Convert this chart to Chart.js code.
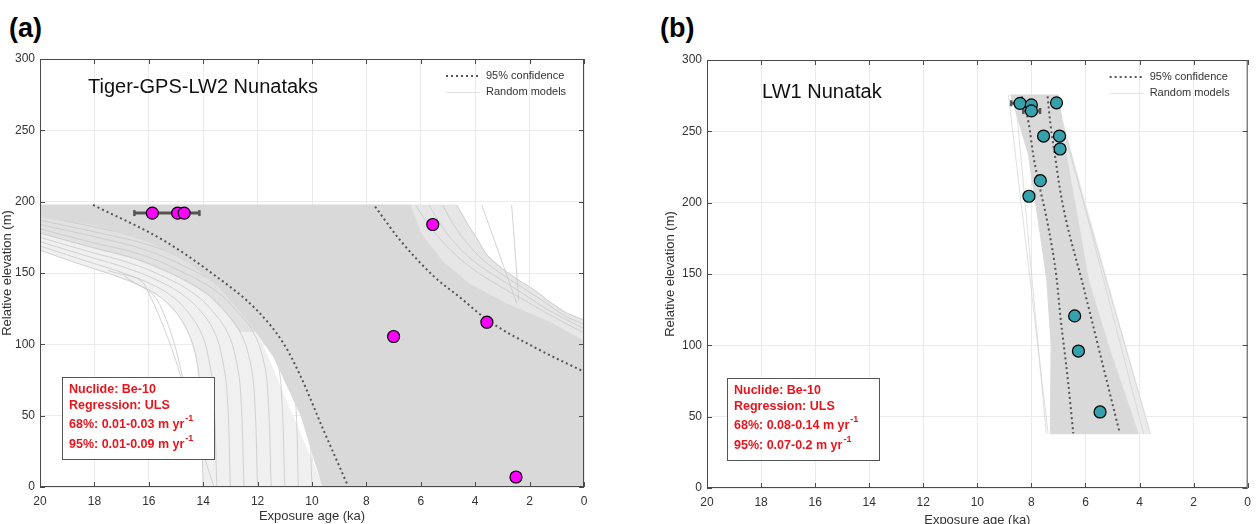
<!DOCTYPE html>
<html lang="en">
<head>
<meta charset="UTF-8" />
<title>Exposure age vs relative elevation</title>
<script src="https://cdn.jsdelivr.net/npm/chart.js@4.4.1/dist/chart.umd.min.js"></script>
<style>
  html, body { margin: 0; padding: 0; background: #fff; overflow: hidden; width: 1258px; height: 524px; }
  .panel-label { position: absolute; top: 13px; line-height: 30px; font: bold 27px "Liberation Sans", Arial, sans-serif; color: #000; }
  canvas { position: absolute; top: 0; }
</style>
</head>
<body>
<div class="panel-label" style="left:9px">(a)</div>
<div class="panel-label" style="left:660px">(b)</div>
<canvas id="chartA" width="600" height="524" style="left:0"></canvas>
<canvas id="chartB" width="595" height="528" style="left:663px"></canvas>
<script>
// ---------- panel (a): Tiger-GPS-LW2 Nunataks ----------
const ageA = [15.87, 14.94, 14.7, 5.56, 3.57, 7.0, 2.5];
const elevA = [192, 192, 192, 184, 115.5, 105.5, 7];
// horizontal error bar (elevation, older end, younger end)
const errA = [[192, 16.53, 14.14]];
// 95% confidence curves
const ciOldA = [[18.05, 197.7], [15.47, 173], [13.69, 150], [12.03, 124], [11.05, 100.7], [10.44, 78.5], [9.58, 40], [8.66, 0]];
const ciYoungA = [[7.68, 196.5], [6.76, 173], [5.54, 148], [4.5, 132], [3.58, 117.5], [1.86, 98.3], [0, 80.8]];
// dense core of the random models (outline)
const bandA = [[20, 197.7], [6.4, 197.7], [6.0, 178], [5.2, 158], [4.2, 142], [2.8, 128], [1.2, 115], [0, 102], [0, 0],
  [9.6, 0], [10.4, 50], [11.4, 91], [12.4, 118], [13.4, 140], [14.5, 157], [16, 172], [18, 184], [20, 189]];
// lighter spread of the models, older side
const spreadOuterA = [[20, 197.7], [20, 166], [18.5, 156], [17.3, 148.5], [16.3, 141], [15.5, 132], [14.9, 120], [14.5, 106],
  [14.25, 90], [14.1, 65], [14.0, 0], [9.6, 0], [14, 197.7]];
const spreadUpperA = [[20, 197.7], [20, 178], [18.1, 168], [16.5, 160], [15.1, 149], [13.9, 136], [13.2, 123], [12.65, 109],
  [11.5, 109], [10, 197.7]];
// lighter spread, younger side
const spreadYoungA = [[6.4, 197.7], [4.68, 197.7], [4.3, 185], [3.9, 173], [3.58, 163], [3.0, 153], [2.4, 145], [1.86, 138.5],
  [1.2, 129], [0.64, 122], [0, 117], [0, 102], [1.2, 115], [2.8, 128], [4.2, 142], [5.2, 158], [6.0, 178]];
// individual random models, older side
const modelsOldA = [
  [[20, 166], [18.5, 156], [17.3, 148.5], [16.3, 141], [15.5, 132], [14.9, 120], [14.5, 106], [14.25, 90], [14.1, 65], [14.0, 0]],
  [[20, 169], [18.4, 159], [17.1, 151], [16.0, 143], [15.1, 133], [14.5, 121], [14.05, 107], [13.8, 90], [13.62, 65], [13.5, 0]],
  [[20, 172], [18.3, 162], [16.9, 154], [15.7, 145], [14.7, 134], [14.0, 121], [13.55, 107], [13.3, 90], [13.12, 65], [13.0, 0]],
  [[20, 175], [18.2, 165], [16.7, 157], [15.4, 147], [14.3, 135], [13.6, 122], [13.1, 108], [12.8, 90], [12.62, 65], [12.5, 0]],
  [[20, 178], [18.1, 168], [16.5, 160], [15.1, 149], [13.9, 136], [13.2, 123], [12.65, 109], [12.3, 90], [12.12, 65], [12.0, 0]],
  [[20, 181], [18.0, 171], [16.3, 163], [14.8, 151], [13.5, 137], [12.8, 124], [12.2, 110], [11.8, 90], [11.62, 65], [11.5, 0]],
  [[20, 184], [17.9, 175], [16.1, 166], [14.5, 153], [13.1, 138], [12.35, 124], [11.75, 110], [11.3, 90], [11.12, 65], [11.0, 0]],
  [[20, 187], [17.8, 178], [15.9, 169], [14.2, 155], [12.8, 140], [12.0, 126], [11.35, 111], [10.85, 90], [10.62, 65], [10.5, 0]],
  [[20, 190], [17.7, 181], [15.7, 172], [13.9, 157], [12.5, 142], [11.6, 127], [10.9, 112], [10.4, 90], [10.15, 65], [10.0, 0]],
  [[17.5, 152], [16.1, 140], [13.6, 0]],
  [[16.9, 148], [15.6, 128], [14.3, 40]]
];
// individual random models, younger side
const modelsYoungA = [
  [[4.68, 197.7], [4.3, 185], [3.9, 173], [3.58, 163], [3.0, 153], [2.4, 145], [1.86, 138.5], [1.2, 129], [0.64, 122], [0, 117]],
  [[5.2, 197.7], [4.8, 184], [4.3, 171], [3.7, 159], [3.0, 149], [2.2, 139], [1.4, 129], [0.7, 120], [0, 114]],
  [[5.7, 197.7], [5.2, 182], [4.6, 168], [3.9, 156], [3.1, 146], [2.2, 135], [1.3, 124], [0, 111]],
  [[6.2, 197.7], [5.6, 181], [4.9, 166], [4.1, 153], [3.2, 142], [2.2, 131], [1.1, 119], [0, 108]],
  [[3.76, 197.7], [2.47, 128.8]],
  [[2.66, 197.7], [2.4, 131]]
];

// ---------- panel (b): LW1 Nunatak ----------
const ageB = [8.42, 8.0, 8.0, 7.07, 7.55, 6.96, 6.94, 7.67, 8.09, 6.4, 6.26, 5.46];
const elevB = [269.6, 268.5, 264.3, 270, 246.7, 246.7, 237.6, 215.4, 204.5, 120.6, 96, 53.3];
const errB = [[269.6, 8.75, 8.1], [264.3, 8.3, 7.68]];
const ciOldB = [[8.36, 274.5], [8.1, 255.6], [7.92, 232], [7.67, 209], [7.4, 185.5], [7.06, 145.8], [6.94, 122.4], [6.65, 75.7], [6.45, 38.3]];
const ciYoungB = [[7.4, 274.5], [7.3, 255.6], [7.12, 232], [6.94, 209], [6.69, 185.5], [6.14, 145.8], [5.83, 122.4], [5.22, 75.7], [4.73, 38.3]];
const bandB = [[8.78, 275.5], [7.0, 275.5], [6.7, 232], [6.26, 185.5], [5.89, 145.8], [5.16, 100.2], [4.05, 38],
  [7.3, 38], [7.27, 100.2], [7.43, 145.8], [7.73, 185.5], [8.1, 232]];
const spreadB = [[7.0, 275.5], [6.9, 260], [3.6, 38], [4.05, 38], [5.16, 100.2], [5.89, 145.8], [6.26, 185.5], [6.7, 232]];
const modelsB = [
  [[8.6, 275.5], [7.45, 38]],
  [[8.85, 275.5], [7.38, 38]],
  [[7.2, 275.5], [3.6, 38]],
  [[7.1, 275.5], [3.85, 38]]
];

const FAMILY = '"Liberation Sans", Arial, Helvetica, sans-serif';
const pts = arr => arr.map(p => ({ x: p[0], y: p[1] }));

function area(poly, color, order) {
  return { data: pts(poly), showLine: true, order: order, fill: 'shape', tension: 0,
    backgroundColor: color, borderColor: color, borderWidth: 1, pointRadius: 0 };
}

function buildDatasets(age, elev, color, errs, ciOld, ciYoung, layers, band, models, modelColor) {
  const sets = [];
  sets.push({ data: age.map((a, i) => ({ x: a, y: elev[i] })), showLine: false, order: 0,
    pointRadius: 6, backgroundColor: color, pointBorderColor: '#000', pointBorderWidth: 1.2 });
  errs.forEach(e => sets.push({ data: [{ x: e[1], y: e[0] }, { x: e[2], y: e[0] }], showLine: true, order: 1,
    borderColor: '#555', borderWidth: 3, pointStyle: 'line', rotation: 90, pointRadius: 3,
    pointBorderColor: '#555', pointBorderWidth: 2.5 }));
  [ciOld, ciYoung].forEach(c => sets.push({ data: pts(c), showLine: true, order: 2, cubicInterpolationMode: 'monotone',
    borderColor: '#555', borderWidth: 2, borderDash: [2, 3], pointRadius: 0 }));
  sets.push(area(band, '#d9d9d9', 3));
  models.forEach(m => sets.push({ data: pts(m), showLine: true, order: 4, tension: 0.4,
    borderColor: modelColor, borderWidth: 1, pointRadius: 0 }));
  layers.forEach((l, i) => sets.push(area(l[0], l[1], 5 + i)));
  return sets;
}

const decoPlugin = {
  id: 'deco',
  afterDatasetsDraw(chart, args, o) {
    const { ctx, chartArea: a, scales } = chart;
    ctx.save();
    // axes box with inward ticks
    ctx.strokeStyle = '#4a4a4a';
    ctx.lineWidth = 1;
    ctx.strokeRect(a.left + 0.5, a.top + 0.5, a.right - a.left - 1, a.bottom - a.top - 1);
    ctx.beginPath();
    scales.x.ticks.forEach(t => {
      const px = Math.round(scales.x.getPixelForValue(t.value)) + 0.5;
      ctx.moveTo(px, a.bottom); ctx.lineTo(px, a.bottom - 5);
      ctx.moveTo(px, a.top); ctx.lineTo(px, a.top + 5);
    });
    scales.y.ticks.forEach(t => {
      const py = Math.round(scales.y.getPixelForValue(t.value)) + 0.5;
      ctx.moveTo(a.left, py); ctx.lineTo(a.left + 5, py);
      ctx.moveTo(a.right, py); ctx.lineTo(a.right - 5, py);
    });
    ctx.stroke();

    // site name
    ctx.fillStyle = '#111';
    ctx.textBaseline = 'middle';
    ctx.font = '20px ' + FAMILY;
    ctx.fillText(o.site, a.left + o.siteDx, a.top + o.siteDy);

    // legend
    const lx = a.right - 138, ly1 = a.top + 17, ly2 = a.top + 33;
    ctx.strokeStyle = '#555';
    ctx.lineWidth = 2;
    ctx.setLineDash([2, 3]);
    ctx.beginPath(); ctx.moveTo(lx, ly1); ctx.lineTo(lx + 34, ly1); ctx.stroke();
    ctx.setLineDash([]);
    ctx.strokeStyle = '#e2e2e2';
    ctx.lineWidth = 1;
    ctx.beginPath(); ctx.moveTo(lx, ly2 + 0.5); ctx.lineTo(lx + 34, ly2 + 0.5); ctx.stroke();
    ctx.fillStyle = '#333';
    ctx.font = '11px ' + FAMILY;
    ctx.fillText('95% confidence', a.right - 98, ly1);
    ctx.fillText('Random models', a.right - 98, ly2);

    // regression box
    const bx = a.left + o.boxDx, by = a.top + 318;
    ctx.fillStyle = '#fff';
    ctx.fillRect(bx, by, 152, 82);
    ctx.strokeStyle = '#555';
    ctx.strokeRect(bx + 0.5, by + 0.5, 152, 82);
    ctx.fillStyle = '#e8141c';
    const rows = [12.7, 28.7, 48, 67.7];
    o.stats.forEach((s, i) => {
      ctx.font = 'bold 12.5px ' + FAMILY;
      ctx.fillText(s, bx + 7, by + rows[i]);
      if (i >= 2) {
        const w = ctx.measureText(s).width;
        ctx.font = 'bold 9px ' + FAMILY;
        ctx.fillText('-1', bx + 7 + w + 1, by + rows[i] - 6);
      }
    });
    ctx.restore();
  }
};

function makeChart(id, datasets, yWidth, xHeight, top, right, deco) {
  const tickFont = { size: 12, family: FAMILY };
  return new Chart(document.getElementById(id), {
    type: 'scatter',
    data: { datasets },
    plugins: [decoPlugin],
    options: {
      responsive: false,
      animation: false,
      events: [],
      layout: { padding: { top: top, right: right, left: 0, bottom: 0 } },
      plugins: { legend: { display: false }, tooltip: { enabled: false }, deco: deco },
      scales: {
        x: {
          type: 'linear', reverse: true, min: 0, max: 20,
          ticks: { stepSize: 2, color: '#333', font: tickFont, padding: 7, maxRotation: 0, autoSkip: false },
          grid: { color: '#ebebeb', drawTicks: false },
          border: { display: false },
          title: { display: true, text: 'Exposure age (ka)', color: '#333', font: { size: 13, family: FAMILY }, padding: 0 },
          afterFit(s) { s.height = xHeight; }
        },
        y: {
          min: 0, max: 300,
          ticks: { stepSize: 50, color: '#333', font: tickFont, padding: 5 },
          grid: { color: '#ebebeb', drawTicks: false },
          border: { display: false },
          title: { display: true, text: 'Relative elevation (m)', color: '#333', font: { size: 13, family: FAMILY }, padding: 0 },
          afterFit(s) { s.width = yWidth; }
        }
      }
    }
  });
}

makeChart('chartA',
  buildDatasets(ageA, elevA, '#ff00ff', errA, ciOldA, ciYoungA,
    [[spreadYoungA, '#e6e6e6'], [spreadUpperA, '#e1e1e1'], [spreadOuterA, '#f0f0f0']],
    bandA, modelsOldA.concat(modelsYoungA), 'rgba(200,200,200,0.8)'),
  40, 37, 59, 16,
  { site: 'Tiger-GPS-LW2 Nunataks', siteDx: 48, siteDy: 28, boxDx: 22,
    stats: ['Nuclide: Be-10', 'Regression: ULS', '68%: 0.01-0.03 m yr', '95%: 0.01-0.09 m yr'] });

makeChart('chartB',
  buildDatasets(ageB, elevB, '#35a1ac', errB, ciOldB, ciYoungB, [[spreadB, '#ebebeb']], bandB, modelsB,
    'rgba(210,210,210,0.7)'),
  44, 40, 60, 8,
  { site: 'LW1 Nunatak', siteDx: 55, siteDy: 32, boxDx: 20,
    stats: ['Nuclide: Be-10', 'Regression: ULS', '68%: 0.08-0.14 m yr', '95%: 0.07-0.2 m yr'] });
</script>
</body>
</html>
